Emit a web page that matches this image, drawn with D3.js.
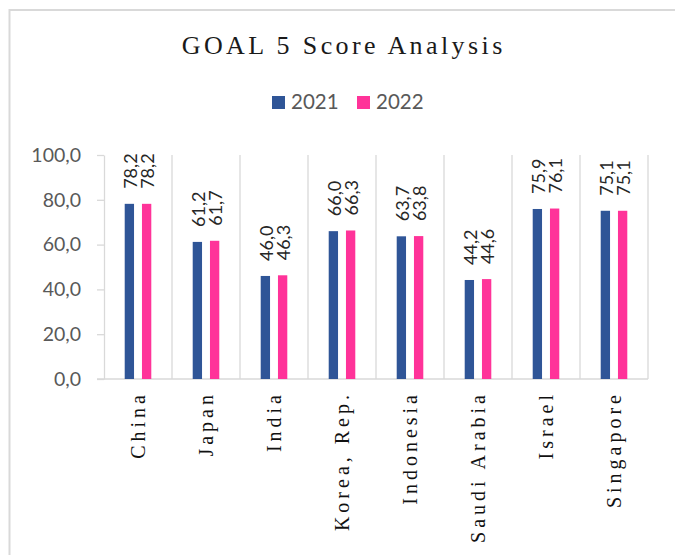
<!DOCTYPE html>
<html>
<head>
<meta charset="utf-8">
<script src="https://cdn.jsdelivr.net/npm/d3@7"></script>
<style>
  html, body { margin: 0; padding: 0; background: #fff; }
  svg { display: block; }
</style>
</head>
<body>
<div id="chart"></div>
<script>
// ---- data ----
const categories = ["China", "Japan", "India", "Korea, Rep.", "Indonesia", "Saudi Arabia", "Israel", "Singapore"];
const seriesNames = ["2021", "2022"];
const values2021 = [78.2, 61.2, 46.0, 66.0, 63.7, 44.2, 75.9, 75.1];
const values2022 = [78.2, 61.7, 46.3, 66.3, 63.8, 44.6, 76.1, 75.1];
const yTicks = [0, 20, 40, 60, 80, 100];
const titleText = "GOAL 5 Score Analysis";

// ---- layout ----
const W = 675, H = 555;
const plot = { left: 104, right: 648, top: 155, bottom: 379 };
const colors = { "2021": "#2F5597", "2022": "#FF3399" };

const locale = d3.formatLocale({ decimal: ",", thousands: ".", grouping: [3], currency: ["", ""] });
const fmt = locale.format(".1f");

const svg = d3.select("#chart").append("svg")
  .attr("width", W).attr("height", H);

// outer border (extends past the viewport at right/bottom)
svg.append("rect")
  .attr("x", 9.5).attr("y", 10).attr("width", 700).attr("height", 600)
  .attr("fill", "#fff").attr("stroke", "#d9d9d9").attr("stroke-width", 2);

// title
svg.append("text")
  .attr("x", 342 + 1.7).attr("y", 54)
  .attr("text-anchor", "middle")
  .attr("font-family", "'Liberation Serif', 'Times New Roman', serif")
  .attr("font-size", 26)
  .attr("letter-spacing", "3.4px")
  .attr("fill", "#1a1a1a")
  .text(titleText);

// legend
const legendItems = [
  { name: seriesNames[0], x: 272 },
  { name: seriesNames[1], x: 357 }
];
const lg = svg.append("g");
legendItems.forEach(d => {
  lg.append("rect").attr("x", d.x).attr("y", 96).attr("width", 13).attr("height", 13)
    .attr("fill", colors[d.name]);
  lg.append("text").attr("x", d.x + 19).attr("y", 109)
    .attr("font-family", "Lato, 'Open Sans', sans-serif")
    .attr("font-size", 20.5)
    .attr("fill", "#595959")
    .text(d.name);
});

// scales
const x = d3.scaleBand().domain(categories).range([plot.left, plot.right]).padding(0);
const y = d3.scaleLinear().domain([0, 100]).range([plot.bottom, plot.top]);
const xs = d3.scaleBand().domain(seriesNames).range([0, x.bandwidth()]).paddingInner(0.46).paddingOuter(1.2);

// vertical separators
const sepPositions = categories.map(c => x(c) + x.bandwidth());
svg.append("g").selectAll("line").data(sepPositions).join("line")
  .attr("x1", d => d).attr("x2", d => d)
  .attr("y1", plot.top).attr("y2", plot.bottom)
  .attr("stroke", "#d9d9d9").attr("stroke-width", 1.3);

// bottom axis line
svg.append("line")
  .attr("x1", plot.left - 7).attr("x2", plot.right)
  .attr("y1", plot.bottom).attr("y2", plot.bottom)
  .attr("stroke", "#d9d9d9").attr("stroke-width", 1.3);

// y axis
const yAxis = svg.append("g")
  .attr("transform", `translate(${plot.left},0)`)
  .call(d3.axisLeft(y).tickValues(yTicks).tickFormat(fmt).tickSize(7).tickSizeOuter(0).tickPadding(16));
yAxis.select(".domain").attr("stroke", "#d9d9d9").attr("stroke-width", 1.3);
yAxis.selectAll(".tick line").attr("stroke", "#d9d9d9").attr("stroke-width", 1.3);
yAxis.selectAll(".tick text")
  .attr("font-family", "Lato, 'Open Sans', sans-serif")
  .attr("font-size", 19.5)
  .attr("fill", "#595959");

// bars
const rows = categories.map((c, i) => ({ cat: c, vals: [
  { s: seriesNames[0], v: values2021[i] },
  { s: seriesNames[1], v: values2022[i] }
]}));
const groups = svg.append("g").selectAll("g").data(rows).join("g")
  .attr("transform", d => `translate(${x(d.cat)},0)`);
groups.selectAll("rect").data(d => d.vals).join("rect")
  .attr("x", d => xs(d.s))
  .attr("width", xs.bandwidth())
  .attr("y", d => y(d.v))
  .attr("height", d => y(0) - y(d.v))
  .attr("fill", d => colors[d.s]);

// data labels (rotated)
groups.selectAll("text").data(d => d.vals).join("text")
  .attr("transform", d => `translate(${xs(d.s) + xs.bandwidth() / 2 + 0.5},${y(d.v) - 15}) rotate(-90)`)
  .attr("text-anchor", "start")
  .attr("dominant-baseline", "central")
  .attr("font-family", "Lato, 'Open Sans', sans-serif")
  .attr("font-size", 18)
  .attr("fill", "#262626")
  .text(d => fmt(d.v));

// category labels
svg.append("g").selectAll("text").data(categories).join("text")
  .attr("transform", d => `translate(${x(d) + x.bandwidth() / 2},${395 - 4}) rotate(-90)`)
  .attr("text-anchor", "end")
  .attr("dominant-baseline", "central")
  .attr("font-family", "'Liberation Serif', 'Times New Roman', serif")
  .attr("font-size", 20)
  .attr("letter-spacing", "4px")
  .attr("fill", "#111")
  .text(d => d);
</script>
</body>
</html>
